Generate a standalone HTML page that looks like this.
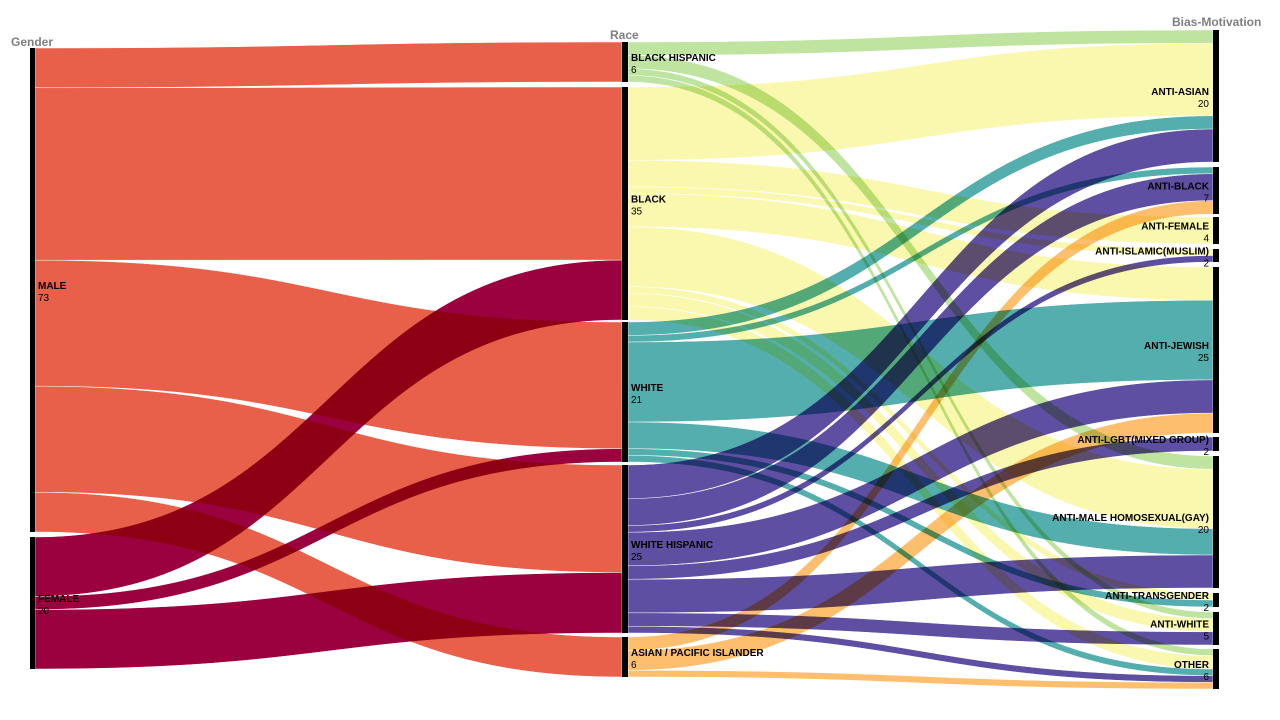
<!DOCTYPE html>
<html><head><meta charset="utf-8">
<style>
html,body{margin:0;padding:0;background:#fff;}
svg{display:block;font-family:"Liberation Sans",Arial,sans-serif;}
.t{fill:#7f7f7f;font-weight:bold;font-size:12px;}
.n{font-weight:bold;font-size:10px;fill:#000;}
.v{font-size:10px;fill:#000;}
#links path{mix-blend-mode:multiply;}
</style></head>
<body>
<svg id="s" width="1280" height="720" viewBox="0 0 1280 720" xmlns="http://www.w3.org/2000/svg">
<rect width="1280" height="720" fill="#fff"/>
<g id="links" style="isolation:isolate"></g><g id="nodes"></g><g id="labels"></g>
<text class="t" x="11" y="46">Gender</text>
<text class="t" x="610" y="39">Race</text>
<text class="t" x="1172" y="26">Bias-Motivation</text>
</svg>
<script>
var NS="http://www.w3.org/2000/svg";
var cols=[{x0:30,x1:35},{x0:622,x1:628},{x0:1213,x1:1219}];
var nodes={
 M:{c:0,y0:48,y1:532,v:73,name:"MALE"},
 F:{c:0,y0:537,y1:669,v:20,name:"FEMALE"},
 BH:{c:1,y0:42,y1:82,v:6,name:"BLACK HISPANIC"},
 B:{c:1,y0:87,y1:320,v:35,name:"BLACK"},
 W:{c:1,y0:322,y1:462,v:21,name:"WHITE"},
 WH:{c:1,y0:465,y1:633,v:25,name:"WHITE HISPANIC"},
 A:{c:1,y0:637,y1:677,v:6,name:"ASIAN / PACIFIC ISLANDER"},
 aA:{c:2,y0:30,y1:162,v:20,name:"ANTI-ASIAN"},
 aB:{c:2,y0:167,y1:214,v:7,name:"ANTI-BLACK"},
 aF:{c:2,y0:217,y1:244,v:4,name:"ANTI-FEMALE"},
 aI:{c:2,y0:249,y1:262,v:2,name:"ANTI-ISLAMIC(MUSLIM)"},
 aJ:{c:2,y0:267,y1:433,v:25,name:"ANTI-JEWISH"},
 aL:{c:2,y0:437,y1:451,v:2,name:"ANTI-LGBT(MIXED GROUP)"},
 aM:{c:2,y0:456,y1:588,v:20,name:"ANTI-MALE HOMOSEXUAL(GAY)"},
 aT:{c:2,y0:593,y1:607,v:2,name:"ANTI-TRANSGENDER"},
 aW:{c:2,y0:612,y1:645,v:5,name:"ANTI-WHITE"},
 aO:{c:2,y0:649,y1:689,v:6,name:"OTHER"}
};
var order=["M","F","BH","B","W","WH","A","aA","aB","aF","aI","aJ","aL","aM","aT","aW","aO"];
var col={M:"rgb(232,96,74)",F:"rgb(155,0,63)",BH:"rgb(190,228,160)",B:"rgb(250,247,175)",W:"rgb(84,174,173)",WH:"rgb(94,79,162)",A:"rgb(253,190,110)"};
var L=[
 ["M","BH",6],["M","B",26],["M","W",19],["M","WH",16],["M","A",6],
 ["F","B",9],["F","W",2],["F","WH",9],
 ["BH","aA",2],["BH","aM",2],["BH","aW",1],["BH","aO",1],
 ["B","aA",11],["B","aF",4],["B","aI",1],["B","aJ",5],["B","aM",9],["B","aT",1],["B","aW",2],["B","aO",2],
 ["W","aA",2],["W","aB",1],["W","aJ",12],["W","aM",4],["W","aT",1],["W","aO",1],
 ["WH","aA",5],["WH","aB",4],["WH","aI",1],["WH","aJ",5],["WH","aL",2],["WH","aM",5],["WH","aW",2],["WH","aO",1],
 ["A","aB",2],["A","aJ",3],["A","aO",1]
];
var outOff={},inOff={};
order.forEach(function(k){outOff[k]=nodes[k].y0;inOff[k]=nodes[k].y0;});
var byT=L.slice().sort(function(a,b){return order.indexOf(a[1])-order.indexOf(b[1])||order.indexOf(a[0])-order.indexOf(b[0]);});
L.forEach(function(l){var n=nodes[l[0]];var u=(n.y1-n.y0)/n.v;var h=l[2]*u;l.sy0=outOff[l[0]];l.sy1=l.sy0+h;outOff[l[0]]+=h;});
byT.forEach(function(l){var n=nodes[l[1]];var u=(n.y1-n.y0)/n.v;var h=l[2]*u;l.ty0=inOff[l[1]];l.ty1=l.ty0+h;inOff[l[1]]+=h;});
var lg=document.getElementById("links");
L.forEach(function(l){
 var x0=cols[nodes[l[0]].c].x1,x1=cols[nodes[l[1]].c].x0,xm=(x0+x1)/2;
 var d="M"+x0+","+l.sy0+"C"+xm+","+l.sy0+" "+xm+","+l.ty0+" "+x1+","+l.ty0+
  "L"+x1+","+l.ty1+"C"+xm+","+l.ty1+" "+xm+","+l.sy1+" "+x0+","+l.sy1+"Z";
 var p=document.createElementNS(NS,"path");p.setAttribute("d",d);p.setAttribute("fill",col[l[0]]);
 p.setAttribute("stroke","#fff");p.setAttribute("stroke-width","0.5");lg.appendChild(p);
});
var ng=document.getElementById("nodes"),tg=document.getElementById("labels");
order.forEach(function(k){
 var n=nodes[k],c=cols[n.c];
 var r=document.createElementNS(NS,"rect");r.setAttribute("x",c.x0);r.setAttribute("y",n.y0);
 r.setAttribute("width",c.x1-c.x0);r.setAttribute("height",n.y1-n.y0);r.setAttribute("fill","#000");ng.appendChild(r);
 var cy=(n.y0+n.y1)/2;
 var right=n.c==2;var tx=right?c.x0-4:c.x1+3;
 var t1=document.createElementNS(NS,"text");t1.setAttribute("class","n");t1.setAttribute("x",tx);t1.setAttribute("y",cy-1);
 if(right)t1.setAttribute("text-anchor","end");t1.textContent=n.name;tg.appendChild(t1);
 var t2=document.createElementNS(NS,"text");t2.setAttribute("class","v");t2.setAttribute("x",tx);t2.setAttribute("y",cy+11);
 if(right)t2.setAttribute("text-anchor","end");t2.textContent=n.v;tg.appendChild(t2);
});
</script>
</body></html>
